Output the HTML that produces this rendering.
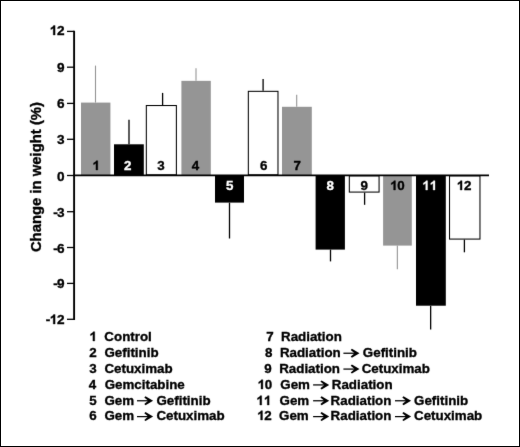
<!DOCTYPE html><html><head><meta charset="utf-8"><style>html,body{margin:0;padding:0;background:#fff;}svg{display:block;will-change:transform;}text{font-family:"Liberation Sans",sans-serif;font-weight:bold;font-variant-ligatures:none;font-feature-settings:"liga" 0,"clig" 0;}</style></head><body>
<svg width="520" height="447" viewBox="0 0 520 447">
<defs><filter id="b" x="-2%" y="-2%" width="104%" height="104%" color-interpolation-filters="sRGB"><feConvolveMatrix order="3" kernelMatrix="0.00524 0.06192 0.00524 0.06192 0.73137 0.06192 0.00524 0.06192 0.00524" edgeMode="duplicate"/></filter></defs><rect x="0" y="0" width="520" height="447" fill="#fff"/><g filter="url(#b)">
<rect x="81" y="102.6" width="29.40" height="72.75" fill="#959595"/>
<line x1="95.5" y1="65.6" x2="95.5" y2="102.6" stroke="#959595" stroke-width="1.1"/>
<text x="92.19" y="170.10" font-size="13.35" fill="#000" stroke="#000" stroke-width="0.35"> </text><path transform="translate(92.19,170) scale(13.35,-13.35)" d="M0.418,0 H0.281 V0.505 Q0.2056,0.4348 0.1035,0.401 V0.5256 Q0.157,0.543 0.220,0.592 T0.3066,0.698 H0.418 Z" fill="#000" stroke="#000" stroke-width="0.0262"/>
<rect x="114" y="144.3" width="29.80" height="31.05" fill="#000"/>
<line x1="129.0" y1="119.8" x2="129.0" y2="144.3" stroke="#000" stroke-width="1.3"/>
<text x="123.89" y="170.10" font-size="13.35" fill="#fff" stroke="#fff" stroke-width="0.35">2</text>
<rect x="146.33" y="105.53" width="30.05" height="69.30" fill="#fff" stroke="#000" stroke-width="1.05"/>
<line x1="162.6" y1="92.9" x2="162.6" y2="105.0" stroke="#000" stroke-width="1.3"/>
<text x="157.19" y="170.10" font-size="13.35" fill="#000" stroke="#000" stroke-width="0.35">3</text>
<rect x="181.4" y="80.85" width="29.40" height="94.50" fill="#959595"/>
<line x1="196.0" y1="68.2" x2="196.0" y2="80.85" stroke="#959595" stroke-width="1.1"/>
<text x="191.79" y="170.10" font-size="13.35" fill="#000" stroke="#000" stroke-width="0.35">4</text>
<rect x="215" y="175.35" width="29.00" height="27.25" fill="#000"/>
<line x1="229.5" y1="202.6" x2="229.5" y2="238.5" stroke="#000" stroke-width="1.3"/>
<text x="226.09" y="190.00" font-size="13.35" fill="#fff" stroke="#fff" stroke-width="0.35">5</text>
<rect x="248.33" y="91.33" width="29.65" height="83.50" fill="#fff" stroke="#000" stroke-width="1.05"/>
<line x1="263.1" y1="79.0" x2="263.1" y2="90.8" stroke="#000" stroke-width="1.3"/>
<text x="259.99" y="170.10" font-size="13.35" fill="#000" stroke="#000" stroke-width="0.35">6</text>
<rect x="282" y="106.8" width="29.80" height="68.55" fill="#959595"/>
<line x1="296.7" y1="94.7" x2="296.7" y2="106.8" stroke="#959595" stroke-width="1.1"/>
<text x="293.39" y="170.10" font-size="13.35" fill="#000" stroke="#000" stroke-width="0.35">7</text>
<rect x="315.6" y="175.35" width="29.30" height="74.25" fill="#000"/>
<line x1="330.5" y1="249.6" x2="330.5" y2="261.4" stroke="#000" stroke-width="1.3"/>
<text x="326.59" y="190.00" font-size="13.35" fill="#fff" stroke="#fff" stroke-width="0.35">8</text>
<rect x="349.32" y="175.88" width="29.75" height="16.20" fill="#fff" stroke="#000" stroke-width="1.05"/>
<line x1="364.6" y1="192.6" x2="364.6" y2="204.8" stroke="#000" stroke-width="1.3"/>
<text x="360.49" y="190.00" font-size="13.35" fill="#000" stroke="#000" stroke-width="0.35">9</text>
<rect x="383.1" y="175.35" width="28.70" height="70.25" fill="#959595"/>
<line x1="397.35" y1="245.6" x2="397.35" y2="269.2" stroke="#959595" stroke-width="1.1"/>
<text x="389.88" y="190.00" font-size="13.35" fill="#000" stroke="#000" stroke-width="0.35"> 0</text><path transform="translate(389.88,190) scale(13.35,-13.35)" d="M0.418,0 H0.281 V0.505 Q0.2056,0.4348 0.1035,0.401 V0.5256 Q0.157,0.543 0.220,0.592 T0.3066,0.698 H0.418 Z" fill="#000" stroke="#000" stroke-width="0.0262"/>
<rect x="416" y="175.35" width="29.80" height="130.35" fill="#000"/>
<line x1="430.65" y1="305.7" x2="430.65" y2="329.6" stroke="#000" stroke-width="1.3"/>
<text x="421.98" y="190.00" font-size="13.35" fill="#fff" stroke="#fff" stroke-width="0.35">  </text><path transform="translate(421.98,190) scale(13.35,-13.35)" d="M0.418,0 H0.281 V0.505 Q0.2056,0.4348 0.1035,0.401 V0.5256 Q0.157,0.543 0.220,0.592 T0.3066,0.698 H0.418 Z" fill="#fff" stroke="#fff" stroke-width="0.0262"/><path transform="translate(429.40,190) scale(13.35,-13.35)" d="M0.418,0 H0.281 V0.505 Q0.2056,0.4348 0.1035,0.401 V0.5256 Q0.157,0.543 0.220,0.592 T0.3066,0.698 H0.418 Z" fill="#fff" stroke="#fff" stroke-width="0.0262"/>
<rect x="449.52" y="175.88" width="30.45" height="63.20" fill="#fff" stroke="#000" stroke-width="1.05"/>
<line x1="464.4" y1="239.6" x2="464.4" y2="252.3" stroke="#000" stroke-width="1.3"/>
<text x="456.48" y="190.00" font-size="13.35" fill="#000" stroke="#000" stroke-width="0.35"> 2</text><path transform="translate(456.48,190) scale(13.35,-13.35)" d="M0.418,0 H0.281 V0.505 Q0.2056,0.4348 0.1035,0.401 V0.5256 Q0.157,0.543 0.220,0.592 T0.3066,0.698 H0.418 Z" fill="#000" stroke="#000" stroke-width="0.0262"/>
<line x1="73" y1="175.35" x2="489" y2="175.35" stroke="#000" stroke-width="1.8"/>
<line x1="74.1" y1="30.8" x2="74.1" y2="320" stroke="#000" stroke-width="1.9"/>
<line x1="67" y1="31.4" x2="74" y2="31.4" stroke="#000" stroke-width="1.3"/>
<text x="49.42" y="34.50" font-size="13.6" fill="#000" stroke="#000" stroke-width="0.35"> 2</text><path transform="translate(49.42,35) scale(13.6,-13.6)" d="M0.418,0 H0.281 V0.505 Q0.2056,0.4348 0.1035,0.401 V0.5256 Q0.157,0.543 0.220,0.592 T0.3066,0.698 H0.418 Z" fill="#000" stroke="#000" stroke-width="0.0257"/>
<line x1="67" y1="67.2" x2="74" y2="67.2" stroke="#000" stroke-width="1.3"/>
<text x="56.94" y="72.10" font-size="13.6" fill="#000" stroke="#000" stroke-width="0.35">9</text>
<line x1="67" y1="103.4" x2="74" y2="103.4" stroke="#000" stroke-width="1.3"/>
<text x="56.93" y="108.10" font-size="13.6" fill="#000" stroke="#000" stroke-width="0.35">6</text>
<line x1="67" y1="139.3" x2="74" y2="139.3" stroke="#000" stroke-width="1.3"/>
<text x="56.93" y="144.10" font-size="13.6" fill="#000" stroke="#000" stroke-width="0.35">3</text>
<line x1="67" y1="175.5" x2="74" y2="175.5" stroke="#000" stroke-width="1.3"/>
<text x="56.99" y="180.60" font-size="13.6" fill="#000" stroke="#000" stroke-width="0.35">0</text>
<line x1="67" y1="211.7" x2="74" y2="211.7" stroke="#000" stroke-width="1.3"/>
<text x="53.20" y="216.80" font-size="13.6" fill="#000" stroke="#000" stroke-width="0.35">-<tspan dx="-0.8">3</tspan></text>
<line x1="67" y1="247.5" x2="74" y2="247.5" stroke="#000" stroke-width="1.3"/>
<text x="53.20" y="252.80" font-size="13.6" fill="#000" stroke="#000" stroke-width="0.35">-<tspan dx="-0.8">6</tspan></text>
<line x1="67" y1="283.4" x2="74" y2="283.4" stroke="#000" stroke-width="1.3"/>
<text x="53.21" y="288.20" font-size="13.6" fill="#000" stroke="#000" stroke-width="0.35">-<tspan dx="-0.8">9</tspan></text>
<line x1="67" y1="319.3" x2="74" y2="319.3" stroke="#000" stroke-width="1.3"/>
<text x="45.69" y="324.30" font-size="13.6" fill="#000" stroke="#000" stroke-width="0.35">-<tspan dx="-0.8"> 2</tspan></text><path transform="translate(49.42,324) scale(13.6,-13.6)" d="M0.418,0 H0.281 V0.505 Q0.2056,0.4348 0.1035,0.401 V0.5256 Q0.157,0.543 0.220,0.592 T0.3066,0.698 H0.418 Z" fill="#000" stroke="#000" stroke-width="0.0257"/>
<text transform="translate(40.9,177.05) rotate(-90)" font-size="14.85" text-anchor="middle" stroke="#000" stroke-width="0.35">Change in weight (%)</text>
<text x="89.15" y="341.20" font-size="13.35" fill="#000" stroke="#000" stroke-width="0.35"> </text><path transform="translate(89.15,341) scale(13.35,-13.35)" d="M0.418,0 H0.281 V0.505 Q0.2056,0.4348 0.1035,0.401 V0.5256 Q0.157,0.543 0.220,0.592 T0.3066,0.698 H0.418 Z" fill="#000" stroke="#000" stroke-width="0.0262"/>
<text x="104.35" y="341.20" font-size="13.35" fill="#000" stroke="#000" stroke-width="0.35" text-anchor="start">Control</text>
<text x="89.31" y="357.04" font-size="13.35" fill="#000" stroke="#000" stroke-width="0.35">2</text>
<text x="104.45" y="357.04" font-size="13.35" fill="#000" stroke="#000" stroke-width="0.35" text-anchor="start">Gefitinib</text>
<text x="89.26" y="372.88" font-size="13.35" fill="#000" stroke="#000" stroke-width="0.35">3</text>
<text x="104.45" y="372.88" font-size="13.35" fill="#000" stroke="#000" stroke-width="0.35" text-anchor="start">Cetuximab</text>
<text x="88.85" y="388.72" font-size="13.35" fill="#000" stroke="#000" stroke-width="0.35">4</text>
<text x="104.65" y="388.72" font-size="13.35" fill="#000" stroke="#000" stroke-width="0.35" text-anchor="start">Gemcitabine</text>
<text x="89.15" y="404.56" font-size="13.35" fill="#000" stroke="#000" stroke-width="0.35">5</text>
<text x="104.45" y="404.56" font-size="13.35" fill="#000" stroke="#000" stroke-width="0.35" text-anchor="start">Gem</text>
<line x1="137.00" y1="400.76" x2="149.00" y2="400.76" stroke="#000" stroke-width="1.25"/><path d="M144.30,397.46 L145.50,396.26 L153.10,400.76 L145.50,405.26 L144.30,404.06 L148.20,400.76 Z" fill="#000"/>
<text x="156.45" y="404.56" font-size="13.35" fill="#000" stroke="#000" stroke-width="0.35" text-anchor="start">Gefitinib</text>
<text x="89.26" y="420.40" font-size="13.35" fill="#000" stroke="#000" stroke-width="0.35">6</text>
<text x="104.45" y="420.40" font-size="13.35" fill="#000" stroke="#000" stroke-width="0.35" text-anchor="start">Gem</text>
<line x1="137.00" y1="416.60" x2="149.00" y2="416.60" stroke="#000" stroke-width="1.25"/><path d="M144.30,413.30 L145.50,412.10 L153.10,416.60 L145.50,421.10 L144.30,419.90 L148.20,416.60 Z" fill="#000"/>
<text x="156.45" y="420.40" font-size="13.35" fill="#000" stroke="#000" stroke-width="0.35" text-anchor="start">Cetuximab</text>
<text x="266.36" y="341.20" font-size="13.35" fill="#000" stroke="#000" stroke-width="0.35">7</text>
<text x="281.01" y="341.20" font-size="13.35" fill="#000" stroke="#000" stroke-width="0.35" text-anchor="start">Radiation</text>
<text x="264.89" y="357.04" font-size="13.35" fill="#000" stroke="#000" stroke-width="0.35">8</text>
<text x="279.91" y="357.04" font-size="13.35" fill="#000" stroke="#000" stroke-width="0.35" text-anchor="start">Radiation</text>
<line x1="343.40" y1="353.24" x2="355.40" y2="353.24" stroke="#000" stroke-width="1.25"/><path d="M350.70,349.94 L351.90,348.74 L359.50,353.24 L351.90,357.74 L350.70,356.54 L354.60,353.24 Z" fill="#000"/>
<text x="362.85" y="357.04" font-size="13.35" fill="#000" stroke="#000" stroke-width="0.35" text-anchor="start">Gefitinib</text>
<text x="264.27" y="372.88" font-size="13.35" fill="#000" stroke="#000" stroke-width="0.35">9</text>
<text x="279.21" y="372.88" font-size="13.35" fill="#000" stroke="#000" stroke-width="0.35" text-anchor="start">Radiation</text>
<line x1="343.40" y1="369.08" x2="355.40" y2="369.08" stroke="#000" stroke-width="1.25"/><path d="M350.70,365.78 L351.90,364.58 L359.50,369.08 L351.90,373.58 L350.70,372.38 L354.60,369.08 Z" fill="#000"/>
<text x="361.65" y="372.88" font-size="13.35" fill="#000" stroke="#000" stroke-width="0.35" text-anchor="start">Cetuximab</text>
<text x="257.30" y="388.72" font-size="13.35" fill="#000" stroke="#000" stroke-width="0.35"> 0</text><path transform="translate(257.30,389) scale(13.35,-13.35)" d="M0.418,0 H0.281 V0.505 Q0.2056,0.4348 0.1035,0.401 V0.5256 Q0.157,0.543 0.220,0.592 T0.3066,0.698 H0.418 Z" fill="#000" stroke="#000" stroke-width="0.0262"/>
<text x="280.25" y="388.72" font-size="13.35" fill="#000" stroke="#000" stroke-width="0.35" text-anchor="start">Gem</text>
<line x1="313.10" y1="384.92" x2="325.10" y2="384.92" stroke="#000" stroke-width="1.25"/><path d="M320.40,381.62 L321.60,380.42 L329.20,384.92 L321.60,389.42 L320.40,388.22 L324.30,384.92 Z" fill="#000"/>
<text x="331.81" y="388.72" font-size="13.35" fill="#000" stroke="#000" stroke-width="0.35" text-anchor="start">Radiation</text>
<text x="256.12" y="404.56" font-size="13.35" fill="#000" stroke="#000" stroke-width="0.35">  </text><path transform="translate(256.12,405) scale(13.35,-13.35)" d="M0.418,0 H0.281 V0.505 Q0.2056,0.4348 0.1035,0.401 V0.5256 Q0.157,0.543 0.220,0.592 T0.3066,0.698 H0.418 Z" fill="#000" stroke="#000" stroke-width="0.0262"/><path transform="translate(263.55,405) scale(13.35,-13.35)" d="M0.418,0 H0.281 V0.505 Q0.2056,0.4348 0.1035,0.401 V0.5256 Q0.157,0.543 0.220,0.592 T0.3066,0.698 H0.418 Z" fill="#000" stroke="#000" stroke-width="0.0262"/>
<text x="279.55" y="404.56" font-size="13.35" fill="#000" stroke="#000" stroke-width="0.35" text-anchor="start">Gem</text>
<line x1="313.10" y1="400.76" x2="325.10" y2="400.76" stroke="#000" stroke-width="1.25"/><path d="M320.40,397.46 L321.60,396.26 L329.20,400.76 L321.60,405.26 L320.40,404.06 L324.30,400.76 Z" fill="#000"/>
<text x="330.61" y="404.56" font-size="13.35" fill="#000" stroke="#000" stroke-width="0.35" text-anchor="start">Radiation</text>
<line x1="395.00" y1="400.76" x2="407.00" y2="400.76" stroke="#000" stroke-width="1.25"/><path d="M402.30,397.46 L403.50,396.26 L411.10,400.76 L403.50,405.26 L402.30,404.06 L406.20,400.76 Z" fill="#000"/>
<text x="414.05" y="404.56" font-size="13.35" fill="#000" stroke="#000" stroke-width="0.35" text-anchor="start">Gefitinib</text>
<text x="256.89" y="420.40" font-size="13.35" fill="#000" stroke="#000" stroke-width="0.35"> 2</text><path transform="translate(256.89,420) scale(13.35,-13.35)" d="M0.418,0 H0.281 V0.505 Q0.2056,0.4348 0.1035,0.401 V0.5256 Q0.157,0.543 0.220,0.592 T0.3066,0.698 H0.418 Z" fill="#000" stroke="#000" stroke-width="0.0262"/>
<text x="279.05" y="420.40" font-size="13.35" fill="#000" stroke="#000" stroke-width="0.35" text-anchor="start">Gem</text>
<line x1="313.10" y1="416.60" x2="325.10" y2="416.60" stroke="#000" stroke-width="1.25"/><path d="M320.40,413.30 L321.60,412.10 L329.20,416.60 L321.60,421.10 L320.40,419.90 L324.30,416.60 Z" fill="#000"/>
<text x="330.61" y="420.40" font-size="13.35" fill="#000" stroke="#000" stroke-width="0.35" text-anchor="start">Radiation</text>
<line x1="395.00" y1="416.60" x2="407.00" y2="416.60" stroke="#000" stroke-width="1.25"/><path d="M402.30,413.30 L403.50,412.10 L411.10,416.60 L403.50,421.10 L402.30,419.90 L406.20,416.60 Z" fill="#000"/>
<text x="414.05" y="420.40" font-size="13.35" fill="#000" stroke="#000" stroke-width="0.35" text-anchor="start">Cetuximab</text>
</g><rect x="0.5" y="0.5" width="519" height="446" fill="none" stroke="#000" stroke-width="1"/></svg></body></html>
